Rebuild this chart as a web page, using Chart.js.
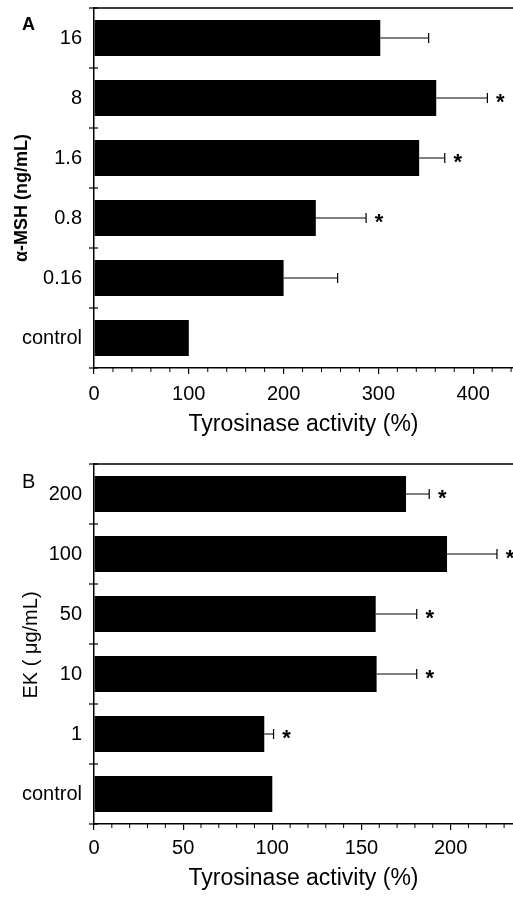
<!DOCTYPE html>
<html>
<head>
<meta charset="utf-8">
<script src="https://cdn.jsdelivr.net/npm/chart.js@4.4.0/dist/chart.umd.min.js"></script>
<style>
  html, body { margin: 0; padding: 0; background: #fff; }
  body { width: 513px; height: 897px; position: relative; overflow: hidden; font-family: 'Liberation Sans', Arial, sans-serif; }
  canvas { position: absolute; left: 0; }
  #cA { top: 0; }
  #cB { top: 445px; }
  .panel { position: absolute; color: #000; line-height: 1; }
  #pA { left: 22px; top: 15px; font-size: 18px; font-weight: bold; }
  #pB { left: 22px; top: 471px; font-size: 20px; }
</style>
</head>
<body>
<canvas id="cA" width="513" height="445"></canvas>
<canvas id="cB" width="513" height="452"></canvas>
<div class="panel" id="pA">A</div>
<div class="panel" id="pB">B</div>
<script>
// ---- Panel A data ----
const categoriesA = ['16', '8', '1.6', '0.8', '0.16', 'control'];
const activityA   = [302, 361, 343, 234, 200, 100];
const errorTopA   = [353, 415, 370, 287, 257, null];
const starsA      = ['', '*', '*', '*', '', ''];
const xTicksA     = [0, 100, 200, 300, 400];
const xMaxA       = 442;
const minorStepA  = 20;

// ---- Panel B data ----
const categoriesB = ['200', '100', '50', '10', '1', 'control'];
const activityB   = [175, 198, 158, 158.5, 95.5, 100];
const errorTopB   = [188, 226, 181, 181, 100.7, null];
const starsB      = ['*', '*', '*', '*', '*', ''];
const xTicksB     = [0, 50, 100, 150, 200];
const xMaxB       = 235;
const minorStepB  = 10;

const FONT = "'Liberation Sans', Arial, sans-serif";

const overlay = {
  id: 'overlay',
  afterDatasetsDraw(chart, args, o) {
    const { ctx, chartArea } = chart;
    const x = chart.scales.x, y = chart.scales.y;
    const vals = chart.data.datasets[0].data;
    ctx.save();
    ctx.strokeStyle = '#000';
    ctx.fillStyle = '#000';
    // top frame line
    ctx.lineWidth = 1.5;
    ctx.beginPath();
    ctx.moveTo(chartArea.left - 1, chartArea.top);
    ctx.lineTo(chart.width, chartArea.top);
    ctx.stroke();
    // y-axis cross ticks at category boundaries
    ctx.lineWidth = 1.2;
    for (let i = 0; i <= vals.length; i++) {
      const yb = y.getPixelForValue(i - 0.5);
      ctx.beginPath();
      ctx.moveTo(chartArea.left - 5, yb);
      ctx.lineTo(chartArea.left + 4, yb);
      ctx.stroke();
    }
    // minor x ticks
    ctx.lineWidth = 1;
    for (let v = o.minorStep; v < x.max; v += o.minorStep) {
      if (o.majors.includes(v)) continue;
      const px = x.getPixelForValue(v);
      ctx.beginPath();
      ctx.moveTo(px, chartArea.bottom);
      ctx.lineTo(px, chartArea.bottom + 4);
      ctx.stroke();
    }
    // error bars and significance marks
    ctx.font = 'bold 22px ' + FONT;
    ctx.textAlign = 'center';
    ctx.textBaseline = 'middle';
    o.errors.forEach((e, i) => {
      if (e == null) return;
      const yc = y.getPixelForValue(i);
      const x0 = x.getPixelForValue(vals[i]);
      const x1 = x.getPixelForValue(e);
      ctx.lineWidth = 1;
      ctx.beginPath();
      ctx.moveTo(x0, yc);
      ctx.lineTo(x1, yc);
      ctx.stroke();
      ctx.lineWidth = 1.2;
      ctx.beginPath();
      ctx.moveTo(x1, yc - 5);
      ctx.lineTo(x1, yc + 5);
      ctx.stroke();
      if (o.stars[i]) ctx.fillText(o.stars[i], x1 + 13, yc + 5);
    });
    // vertical axis title
    const cy = (chartArea.top + chartArea.bottom) / 2 + o.titleShift;
    ctx.translate(o.titleX, cy);
    ctx.rotate(-Math.PI / 2);
    ctx.font = o.titleFont;
    ctx.fillText(o.title, 0, 0);
    ctx.restore();
  }
};

function makeChart(id, cats, vals, errs, stars, ticks, xMax, minorStep, yTitle, yTitleFont, titleX, titleShift, padTop, padBottom, xHeight, tickPad) {
  return new Chart(document.getElementById(id), {
    type: 'bar',
    data: {
      labels: cats,
      datasets: [{
        data: vals,
        backgroundColor: '#000',
        borderWidth: 0,
        barPercentage: 0.6,
        categoryPercentage: 1.0
      }]
    },
    options: {
      indexAxis: 'y',
      responsive: false,
      animation: false,
      layout: { padding: { top: padTop, right: 0, bottom: padBottom, left: 0 } },
      plugins: {
        legend: { display: false },
        tooltip: { enabled: false },
        overlay: { errors: errs, stars: stars, minorStep: minorStep, majors: ticks,
                   title: yTitle, titleFont: yTitleFont, titleX: titleX, titleShift: titleShift }
      },
      scales: {
        x: {
          type: 'linear',
          min: 0,
          max: xMax,
          afterBuildTicks: s => { s.ticks = ticks.map(v => ({ value: v })); },
          afterFit: s => { s.height = xHeight; s.paddingLeft = 0; s.paddingRight = 0; },
          ticks: { color: '#000', font: { family: FONT, size: 20 }, padding: tickPad, includeBounds: false, maxRotation: 0 },
          grid: { display: true, drawOnChartArea: false, drawTicks: true, tickLength: 6, color: '#000', lineWidth: 1.2 },
          border: { display: true, color: '#000', width: 1.5 },
          title: { display: true, text: 'Tyrosinase activity (%)', color: '#000', font: { family: FONT, size: 23 }, padding: { top: 0, bottom: 0 } }
        },
        y: {
          type: 'category',
          offset: true,
          afterFit: s => { s.width = 94; s.paddingTop = 0; s.paddingBottom = 0; },
          ticks: { color: '#000', font: { family: FONT, size: 20 }, padding: 12 },
          grid: { display: true, drawOnChartArea: false, drawTicks: false },
          border: { display: true, color: '#000', width: 1.5 },
          title: { display: false }
        }
      }
    },
    plugins: [overlay]
  });
}

makeChart('cA', categoriesA, activityA, errorTopA, starsA, xTicksA, xMaxA, minorStepA,
  'α-MSH (ng/mL)', 'bold 18px ' + FONT, 22, 10, 8, 7, 70, 8);
makeChart('cB', categoriesB, activityB, errorTopB, starsB, xTicksB, xMaxB, minorStepB,
  'EK ( μg/mL)', '20px ' + FONT, 31, 1, 19, 5, 68, 6);
</script>
</body>
</html>
